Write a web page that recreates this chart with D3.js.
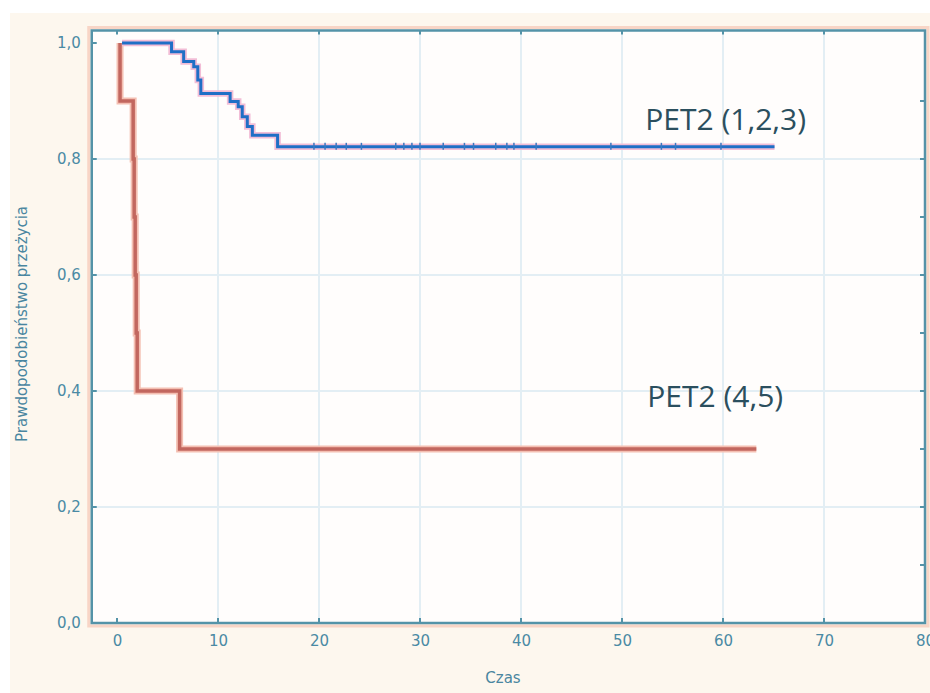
<!DOCTYPE html>
<html>
<head>
<meta charset="utf-8">
<script src="https://cdn.jsdelivr.net/npm/d3@7"></script>
<style>
  body { margin: 0; background: #fff; }
  svg { display: block; }
</style>
</head>
<body>
<div id="chart"></div>
<script>
// Kaplan-Meier curves
var blueTimes  = [0.5, 5.4, 6.6, 7.6, 8.0, 8.3, 11.2, 12.0, 12.4, 12.9, 13.4, 15.9, 65.1];
var blueValues = [1.0, 0.985, 0.968, 0.959, 0.936, 0.913, 0.899, 0.890, 0.873, 0.856, 0.841, 0.821, 0.821];
var blueCensored = [19.5, 20.6, 21.7, 22.7, 24.2, 27.6, 28.4, 29.2, 30.0, 32.3, 34.4, 35.3, 37.5, 38.6, 39.3, 41.5, 48.9, 53.9, 55.3, 59.8];

var redTimes  = [0.3, 0.3, 1.6, 1.7, 1.8, 1.9, 2.0, 6.2, 63.3];
var redValues = [1.0, 0.9, 0.8, 0.7, 0.6, 0.5, 0.4, 0.3, 0.3];

var xTicks = [0, 10, 20, 30, 40, 50, 60, 70, 80];
var yTicks = [0, 0.2, 0.4, 0.6, 0.8, 1.0];
var yTickLabels = ["0,0", "0,2", "0,4", "0,6", "0,8", "1,0"];
var seriesNames = ["PET2 (1,2,3)", "PET2 (4,5)"];

var width = 930, height = 693;

var svg = d3.select("#chart").append("svg")
    .attr("width", width)
    .attr("height", height);

var x = d3.scaleLinear().domain([0, 80]).range([117, 925]);
var y = d3.scaleLinear().domain([0, 1]).range([623, 43]);

// cream page behind the plot
svg.append("rect")
    .attr("x", 10).attr("y", 13)
    .attr("width", width - 10).attr("height", height - 13)
    .attr("fill", "#fdf7ee");

var plotLeft = x(-2.5), plotRight = x(80), plotTop = 30.5, plotBottom = y(0);

// faint pink halo round the frame
svg.append("rect")
    .attr("x", plotLeft - 3).attr("y", plotTop - 3)
    .attr("width", plotRight - plotLeft + 6).attr("height", plotBottom - plotTop + 6)
    .attr("fill", "none")
    .attr("stroke", "#f8d5c6")
    .attr("stroke-width", 3);

svg.append("rect")
    .attr("x", plotLeft).attr("y", plotTop)
    .attr("width", plotRight - plotLeft).attr("height", plotBottom - plotTop)
    .attr("fill", "#fffdfc");

// grid
svg.append("g").selectAll("line")
    .data(xTicks.filter(function(d) { return d > 0 && d < 80; }))
    .enter().append("line")
    .attr("x1", function(d) { return x(d); })
    .attr("x2", function(d) { return x(d); })
    .attr("y1", plotTop).attr("y2", plotBottom)
    .attr("stroke", "#e3eef4")
    .attr("stroke-width", 2);

svg.append("g").selectAll("line")
    .data(yTicks.filter(function(d) { return d > 0 && d < 1; }))
    .enter().append("line")
    .attr("x1", plotLeft).attr("x2", plotRight)
    .attr("y1", function(d) { return y(d); })
    .attr("y2", function(d) { return y(d); })
    .attr("stroke", "#e3eef4")
    .attr("stroke-width", 2);

// axes (labels), ticks drawn inward
var frameColor = "#5493a8";
var tickColor = "#4a8aa4";

var xAxis = d3.axisBottom(x).tickValues(xTicks).tickSize(0).tickPadding(12)
    .tickFormat(d3.format("d"));
var gx = svg.append("g")
    .attr("transform", "translate(0," + plotBottom + ")")
    .call(xAxis);
gx.select(".domain").remove();
gx.selectAll("text")
    .attr("fill", tickColor)
    .style("font-family", "DejaVu Sans")
    .style("font-size", "15px");

var yAxis = d3.axisLeft(y).tickValues(yTicks).tickSize(0).tickPadding(11)
    .tickFormat(function(d, i) { return yTickLabels[i]; });
var gy = svg.append("g")
    .attr("transform", "translate(" + plotLeft + ",0)")
    .call(yAxis);
gy.select(".domain").remove();
gy.selectAll("text")
    .attr("fill", tickColor)
    .style("font-family", "DejaVu Sans")
    .style("font-size", "15px");

var ticks = svg.append("g").attr("stroke", frameColor).attr("stroke-width", 2);
ticks.selectAll(".tb").data(xTicks.filter(function(d) { return d < 80; }))
    .enter().append("line")
    .attr("x1", function(d) { return x(d); }).attr("x2", function(d) { return x(d); })
    .attr("y1", plotBottom).attr("y2", plotBottom - 5);
ticks.selectAll(".tt").data(xTicks.filter(function(d) { return d < 80; }))
    .enter().append("line")
    .attr("x1", function(d) { return x(d); }).attr("x2", function(d) { return x(d); })
    .attr("y1", plotTop).attr("y2", plotTop + 4);
ticks.selectAll(".tl").data(yTicks)
    .enter().append("line")
    .attr("x1", plotLeft).attr("x2", plotLeft + 5)
    .attr("y1", function(d) { return y(d); }).attr("y2", function(d) { return y(d); });
ticks.selectAll(".tr").data(d3.range(0.1, 1.0, 0.1))
    .enter().append("line")
    .attr("x1", plotRight).attr("x2", plotRight - 5)
    .attr("y1", function(d) { return y(d); }).attr("y2", function(d) { return y(d); });

// frame
svg.append("rect")
    .attr("x", plotLeft).attr("y", plotTop)
    .attr("width", plotRight - plotLeft).attr("height", plotBottom - plotTop)
    .attr("fill", "none")
    .attr("stroke", frameColor)
    .attr("stroke-width", 2.5);

// step curves
function toPoints(times, values) {
    return times.map(function(t, i) { return [t, values[i]]; });
}
var step = d3.line()
    .x(function(d) { return x(d[0]); })
    .y(function(d) { return y(d[1]); })
    .curve(d3.curveStepAfter);

var red = toPoints(redTimes, redValues);
var blue = toPoints(blueTimes, blueValues);

svg.append("path").datum(red)
    .attr("d", step).attr("fill", "none")
    .attr("stroke", "#f4bfb2").attr("stroke-width", 7);
svg.append("path").datum(red)
    .attr("d", step).attr("fill", "none")
    .attr("stroke", "#c2675f").attr("stroke-width", 3.5);

svg.append("path").datum(blue)
    .attr("d", step).attr("fill", "none")
    .attr("stroke", "#f2bdd6").attr("stroke-width", 6.5);
svg.append("path").datum(blue)
    .attr("d", step).attr("fill", "none")
    .attr("stroke", "#1f6fc6").attr("stroke-width", 3);

// censor marks on the blue curve
svg.append("g").selectAll("line")
    .data(blueCensored)
    .enter().append("line")
    .attr("x1", function(d) { return x(d); })
    .attr("x2", function(d) { return x(d); })
    .attr("y1", y(0.821) - 4)
    .attr("y2", y(0.821) + 3)
    .attr("stroke", "#3a78c0")
    .attr("stroke-width", 1.5);

// series labels
svg.append("text")
    .attr("x", x(52.3)).attr("y", y(0.85))
    .text(seriesNames[0])
    .attr("fill", "#2b4f5e")
    .style("font-family", "Open Sans")
    .style("font-size", "30px");
svg.append("text")
    .attr("x", x(52.5)).attr("y", y(0.373))
    .text(seriesNames[1])
    .attr("fill", "#2b4f5e")
    .style("font-family", "Open Sans")
    .style("font-size", "30px");

// axis titles
svg.append("text")
    .attr("x", 503).attr("y", 683)
    .attr("text-anchor", "middle")
    .attr("fill", "#4a86a0")
    .style("font-family", "DejaVu Sans")
    .style("font-size", "15px")
    .text("Czas");

svg.append("text")
    .attr("transform", "translate(27,324) rotate(-90)")
    .attr("text-anchor", "middle")
    .attr("fill", "#4a86a0")
    .style("font-family", "DejaVu Sans")
    .style("font-size", "15px")
    .text("Prawdopodobieństwo przeżycia");
</script>
</body>
</html>
